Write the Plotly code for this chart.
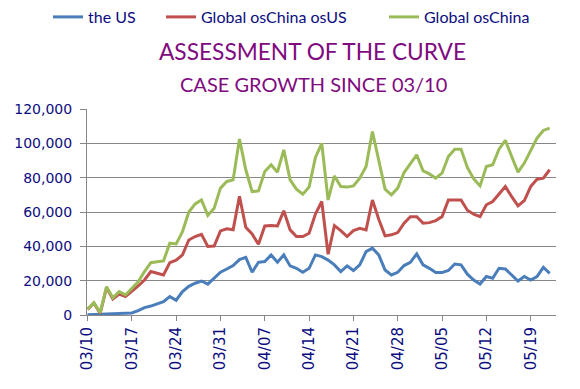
import pandas as pd
import plotly.graph_objects as go

dates = pd.date_range("2020-03-10", periods=74, freq="D")

us = [200, 300, 400, 500, 600, 700, 900, 1200, 2500, 4300,
      5200, 6400, 7800, 10700, 8600, 13600, 16700, 18500, 19800, 18000,
      21400, 24900, 26800, 28800, 32300, 33600, 24900, 30700, 31100, 35000,
      30700, 35000, 28600, 27200, 24900, 27200, 35000, 34000, 32000, 29200,
      25300, 28600, 25900, 29200, 36900, 38900, 35000, 26200, 23300, 24900,
      28800, 30700, 35600, 29200, 27200, 24700, 24700, 25900, 29700, 29200,
      23800, 20400, 18100, 22400, 21400, 27200, 26800, 23300, 19800, 22400,
      20400, 22400, 27800, 24300]

ex_china_ex_us = [3300, 6900, 1000, 16000, 9300, 12200, 10700, 13600, 16900, 20400,
                  25300, 24300, 23300, 30500, 32000, 35000, 43700, 45700, 47000, 39900,
                  40200, 49000, 50200, 49600, 69200, 51100, 47200, 41200, 51900, 52100,
                  51900, 60700, 49600, 45700, 45700, 47600, 58800, 66100, 35400, 52100,
                  49200, 45700, 49200, 50500, 49600, 67000, 55800, 46100, 46700, 48000,
                  53500, 57300, 57300, 53500, 53800, 55000, 57300, 67000, 67000, 67000,
                  61000, 58700, 57300, 64200, 66100, 70600, 74800, 69000, 63600, 66700,
                  74800, 79100, 79700, 84600]

ex_china = [3500, 7200, 1400, 16500, 10000, 13600, 11700, 15500, 19400, 25300,
            30500, 31000, 31500, 41800, 41400, 48600, 60000, 64700, 67000, 58000,
            62200, 73900, 77800, 78700, 102500, 84600, 71900, 72300, 83600, 87500,
            83200, 96200, 78700, 73300, 70400, 74500, 91800, 100000, 67000, 81000,
            74800, 74500, 75200, 79700, 86500, 106900, 90400, 73300, 70000, 73900,
            83000, 87900, 93300, 84000, 82200, 79700, 82600, 92300, 96600, 96600,
            86000, 79300, 75200, 86500, 87500, 96600, 101700, 92300, 83200, 88500,
            96200, 103000, 107500, 108900]

series = [
    ("the US", us, "#4A7EBB", "legend"),
    ("Global osChina osUS", ex_china_ex_us, "#C0504D", "legend2"),
    ("Global osChina", ex_china, "#9BBB59", "legend3"),
]

title1 = "ASSESSMENT OF THE CURVE"
title2 = "CASE GROWTH SINCE 03/10"

navy = "#0c0c80"
grid = "#878787"
purple = "#800a80"

# plot area in pixels
L, R, T, B = 87, 556, 109, 315
W, H = R - L, B - T


def px(x):
    return (x - L) / W


def py(y):
    return (B - y) / H


fig = go.Figure()
for name, vals, color, lg in series:
    fig.add_trace(go.Scatter(x=dates, y=vals, mode="lines", name=name,
                             line=dict(color=color, width=3), legend=lg))

legend_common = dict(orientation="h", xref="paper", yref="paper",
                     yanchor="middle", y=py(17), xanchor="left",
                     bgcolor="rgba(0,0,0,0)", borderwidth=0,
                     font=dict(family="Lato", size=16, color=navy),
                     itemwidth=30)

fig.update_layout(
    width=580, height=389,
    margin=dict(l=L, r=580 - R, t=T, b=389 - B, pad=0, autoexpand=False),
    paper_bgcolor="white", plot_bgcolor="white",
    showlegend=True,
    legend=dict(legend_common, x=px(48)),
    legend2=dict(legend_common, x=px(161)),
    legend3=dict(legend_common, x=px(384)),
    xaxis=dict(
        type="date",
        range=["2020-03-09 22:00", "2020-05-23 00:00"],
        tick0="2020-03-10", dtick=7 * 86400000,
        tickformat="%m/%d", tickangle=-90,
        ticks="outside", ticklen=5, tickcolor=grid,
        showline=True, linecolor=grid, linewidth=1,
        showgrid=False, zeroline=False,
        tickfont=dict(family="DejaVu Sans", size=15, color=navy),
    ),
    yaxis=dict(
        range=[0, 120000], dtick=20000, tickformat=",",
        ticks="outside", ticklen=6, tickcolor=grid,
        showline=True, linecolor=grid, linewidth=1,
        showgrid=True, gridcolor=grid, gridwidth=1, zeroline=False,
        ticklabelstandoff=5,
        tickfont=dict(family="DejaVu Sans", size=14, color=navy),
    ),
    annotations=[
        dict(text=title1, xref="paper", yref="paper",
             x=px(312), y=py(52),
             xanchor="center", yanchor="middle", showarrow=False,
             font=dict(family="Lato", size=22.7, color=purple)),
        dict(text=title2, xref="paper", yref="paper",
             x=px(313), y=py(84),
             xanchor="center", yanchor="middle", showarrow=False,
             font=dict(family="Lato", size=20, color=purple)),
    ],
)

fig.write_html("out.html",
               config={"displayModeBar": False},
               post_script="document.body.style.margin='0';"
                           "document.body.style.overflow='hidden';")
